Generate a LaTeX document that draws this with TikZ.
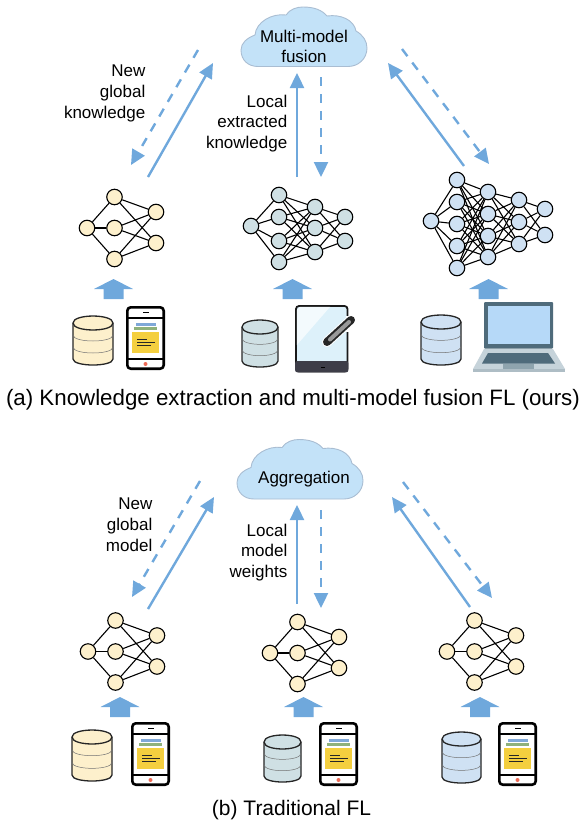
\documentclass[tikz,border=0pt]{standalone}
\usepackage{fontspec}
\setmainfont{Liberation Sans}
\usetikzlibrary{arrows.meta}
\definecolor{flow}{HTML}{6FA8DC}
\definecolor{nyel}{HTML}{FDF0CC}
\definecolor{ngre}{HTML}{CFE0E4}
\definecolor{nblu}{HTML}{CFE1F3}
\definecolor{cloudc}{HTML}{C3E2F8}
\definecolor{cloude}{HTML}{A9BDD2}
\definecolor{lapd}{HTML}{4F6B7B}
\definecolor{lapl}{HTML}{C6D3DA}
\definecolor{laps}{HTML}{B6D9F8}
\definecolor{lapm}{HTML}{8FA4AE}
\definecolor{lapb}{HTML}{AEBDC5}
\definecolor{phblue}{HTML}{7FA8D8}
\definecolor{phgreen}{HTML}{8FB17C}
\definecolor{phyel}{HTML}{F4CF3F}
\definecolor{phred}{HTML}{EE6A55}
\definecolor{tabl}{HTML}{DDF1FA}
\definecolor{tabd}{HTML}{3D3D48}
\tikzset{
 x=1pt,y=-1pt,
 neuron/.style={circle,draw=black,line width=1.1pt,minimum size=15.5pt,inner sep=0pt,fill=#1},
 syn/.style={line width=1.1pt,draw=black},
 solidflow/.style={draw=flow,line width=2.4pt,-{Triangle[length=15pt,width=14pt]}},
 dashflow/.style={draw=flow,line width=2.4pt,dash pattern=on 9pt off 8pt,-{Triangle[length=15pt,width=14pt]}},
 lbl/.style={font=\fontsize{17}{20.8}\selectfont,align=right,anchor=east,inner sep=0pt},
 cloudtxt/.style={font=\fontsize{17}{20.8}\selectfont,align=center,inner sep=0pt},
 captxt/.style={font=\fontsize{22.3}{24}\selectfont,inner sep=0pt},
 captxtb/.style={font=\fontsize{21}{24}\selectfont,inner sep=0pt},
}
% small network: prefix, x of input, y of centre, colour
\newcommand\smallnet[4]{%
 \begin{scope}[shift={(#2,#3)}]
 \node[neuron=#4] (#1i) at (0,0) {};
 \foreach \k/\yy in {1/-31,2/0,3/31} \node[neuron=#4] (#1m\k) at (27.5,\yy) {};
 \foreach \k/\yy in {1/-16,2/15} \node[neuron=#4] (#1o\k) at (69,\yy) {};
 \foreach \k in {1,2,3} {\draw[syn] (#1i) -- (#1m\k); \foreach \j in {1,2} \draw[syn] (#1m\k) -- (#1o\j);}
 \end{scope}}
% cylinder: centre x, top y, half width, bottom y, colour
\newcommand\dbase[5]{%
 \pgfmathsetmacro\ya{#2+7}\pgfmathsetmacro\yb{#4-6}%
 \pgfmathsetmacro\xl{#1-#3}\pgfmathsetmacro\xr{#1+#3}%
 \pgfmathsetmacro\yc{\ya+(\yb-\ya)/3}\pgfmathsetmacro\yd{\ya+2*(\yb-\ya)/3}%
 \draw[line width=1.3pt,draw=black!85,fill=#5] (\xl,\ya) -- (\xl,\yb)
   .. controls (\xl,#4+2) and (\xr,#4+2) .. (\xr,\yb) -- (\xr,\ya)
   .. controls (\xr,#2-2.3) and (\xl,#2-2.3) .. (\xl,\ya) -- cycle;
 \draw[line width=1.3pt,draw=black!85] (\xl,\ya) .. controls (\xl,\ya+9.3) and (\xr,\ya+9.3) .. (\xr,\ya);
 \draw[line width=0.5pt,draw=black!55] (\xl,\yc) .. controls (\xl,\yc+8) and (\xr,\yc+8) .. (\xr,\yc);
 \draw[line width=0.5pt,draw=black!55] (\xl,\yd) .. controls (\xl,\yd+8) and (\xr,\yd+8) .. (\xr,\yd);}
% phone at top-left x,y
\newcommand\phone[2]{%
 \begin{scope}[shift={(#1,#2)}]
 \draw[line width=2.6pt,rounded corners=3.5pt,fill=white] (1.3,1.3) rectangle (37.7,62.7);
 \draw[line width=2pt] (1,12) -- (38,12) (1,53) -- (38,53);
 \draw[line width=1pt] (17,6.5) -- (22.5,6.5);
 \fill[phblue] (10,17) rectangle (30,20);
 \fill[phgreen] (8,21) rectangle (31,24);
 \fill[phyel] (6,26) rectangle (33,47);
 \draw[line width=0.8pt,black!85] (11,33.5) -- (21,33.5) (11,36.5) -- (29,36.5) (11,39.5) -- (25,39.5);
 \fill[phred] (19.5,58) circle (2pt);
 \end{scope}}
% upward block arrow: centre x, tip y
\newcommand\bigarrow[2]{%
 \fill[flow] (#1,#2) -- ++(19.5,10) -- ++(-9.5,0) -- ++(0,10) -- ++(-20,0) -- ++(0,-10) -- ++(-9.5,0) -- cycle;}
% cloud outline
\newcommand\cloudshape[2]{%
 \draw[line width=0.9pt,draw=cloude,fill=cloudc,shift={(#1,#2)}]
 (258,66.5) .. controls (248,66.5) and (241,60) .. (241,50)
 .. controls (241,43) and (247,38) .. (255,35)
 .. controls (256,22) and (272,13) .. (286,15)
 .. controls (290,9) and (297,7) .. (303,7)
 .. controls (314,7) and (322,10) .. (327,16)
 .. controls (341,14) and (354,20) .. (356,31)
 .. controls (363,35) and (367,41) .. (367,48)
 .. controls (367,59) and (358,66.5) .. (348,66.5) -- cycle;}
\begin{document}
\begin{tikzpicture}
\useasboundingbox (0,0) rectangle (581,825);

%%% ---------- part (a) ----------
\cloudshape{0}{0}
\node[cloudtxt] (fusion) at (304,46.5) {Multi-model\\fusion};

% flow arrow ends
\coordinate (a1s) at (148,177); \coordinate (a1e) at (213,63);
\coordinate (a2s) at (198,50);  \coordinate (a2e) at (131,165);
\coordinate (a3s) at (297,177); \coordinate (a3e) at (297,73);
\coordinate (a4s) at (321,77);  \coordinate (a4e) at (321,177);
\coordinate (a5s) at (464,166); \coordinate (a5e) at (388,63);
\coordinate (a6s) at (402,49);  \coordinate (a6e) at (489,164);
\draw[solidflow] (a1s) -- (a1e);
\draw[dashflow]  (a2s) -- (a2e);
\draw[solidflow] (a3s) -- (a3e);
\draw[dashflow]  (a4s) -- (a4e);
\draw[solidflow] (a5s) -- (a5e);
\draw[dashflow]  (a6s) -- (a6e);

\node[lbl] (lA1) at (145.5,93.5) {New\\global\\knowledge};
\node[lbl] (lA2) at (287.5,123.5) {Local\\extracted\\knowledge};

% left network
\smallnet{A}{87}{228}{nyel}

% middle network
\node[neuron=ngre] (Bi) at (251,226) {};
\foreach \k/\yy in {1/195,2/217,3/241,4/262} \node[neuron=ngre] (Bm\k) at (279,\yy) {};
\foreach \k/\yy in {1/207,2/228,3/252} \node[neuron=ngre] (Bn\k) at (315,\yy) {};
\foreach \k/\yy in {1/217,2/241} \node[neuron=ngre] (Bo\k) at (345,\yy) {};
\foreach \k in {1,2,3,4} {\draw[syn] (Bi) -- (Bm\k); \foreach \j in {1,2,3} \draw[syn] (Bm\k) -- (Bn\j);}
\foreach \k in {1,2,3} \foreach \j in {1,2} \draw[syn] (Bn\k) -- (Bo\j);

% right network
\node[neuron=nblu] (Ci) at (431,221) {};
\foreach \k/\yy in {1/180,2/202,3/224,4/246,5/268} \node[neuron=nblu] (Ca\k) at (457,\yy) {};
\foreach \k/\yy in {1/192,2/214,3/236,4/257} \node[neuron=nblu] (Cb\k) at (488,\yy) {};
\foreach \k/\yy in {1/200,2/222,3/244} \node[neuron=nblu] (Cc\k) at (519,\yy) {};
\foreach \k/\yy in {1/209,2/235} \node[neuron=nblu] (Cd\k) at (545,\yy) {};
\foreach \k in {1,...,5} {\draw[syn] (Ci) -- (Ca\k); \foreach \j in {1,...,4} \draw[syn] (Ca\k) -- (Cb\j);}
\foreach \k in {1,...,4} \foreach \j in {1,2,3} \draw[syn] (Cb\k) -- (Cc\j);
\foreach \k in {1,2,3} \foreach \j in {1,2} \draw[syn] (Cc\k) -- (Cd\j);

% block arrows
\bigarrow{113.5}{279}
\bigarrow{292.5}{279}
\bigarrow{488.5}{279}

% data and devices
\dbase{93}{316}{20}{365}{nyel}
\phone{126}{306}
\dbase{260}{320}{18}{367}{ngre}
\dbase{441}{315}{20}{365}{nblu}

% tablet
\draw[line width=1.8pt,draw=black!90,fill=tabl,rounded corners=3pt] (296,306) rectangle (347.5,371.5);
\fill[white!65!tabl] (296.9,345) -- (330,306.9) -- (300,306.9) -- (296.9,310) -- cycle;
\fill[tabd,rounded corners=2pt] (295.2,361) rectangle (348.3,372.3);
\draw[line width=1pt,black] (321,367) -- (325,367);
\draw[line width=3pt,white] (347.5,316) -- (347.5,332);
\draw[line width=10pt,white,line cap=round] (351,320) -- (327,342);
\draw[line width=8pt,black!85,line cap=round] (351,320) -- (327,342);
\draw[line width=4pt,gray!80!white,line cap=round] (349,322) -- (330,339.5);

% laptop
\fill[lapl] (484,349) -- (553,349) -- (565,369) -- (473,369) -- cycle;
\fill[lapb] (473,369) rectangle (565,372);
\fill[lapd,rounded corners=1pt] (484,302) rectangle (553,348.5);
\fill[laps] (487.5,305.5) rectangle (550,344);
\fill[lapd] (488,353) -- (548,353) -- (555,363.5) -- (482,363.5) -- cycle;
\fill[lapm] (503,364) rectangle (534,368.5);

\node[captxt] (capA) at (293,399.5) {(a) Knowledge extraction and multi-model fusion FL (ours)};

%%% ---------- part (b) ----------
\cloudshape{-4}{432.5}
\node[cloudtxt] (aggr) at (304,479) {Aggregation};

\coordinate (b1s) at (148,609); \coordinate (b1e) at (214,497);
\coordinate (b2s) at (200,481); \coordinate (b2e) at (132,597);
\coordinate (b3s) at (297,604); \coordinate (b3e) at (297,505);
\coordinate (b4s) at (321,510); \coordinate (b4e) at (321,608);
\coordinate (b5s) at (470,607); \coordinate (b5e) at (392,497);
\coordinate (b6s) at (403,482); \coordinate (b6e) at (492,598);
\draw[solidflow] (b1s) -- (b1e);
\draw[dashflow]  (b2s) -- (b2e);
\draw[solidflow] (b3s) -- (b3e);
\draw[dashflow]  (b4s) -- (b4e);
\draw[solidflow] (b5s) -- (b5e);
\draw[dashflow]  (b6s) -- (b6e);

\node[lbl] (lB1) at (152.5,524.5) {New\\global\\model};
\node[lbl] (lB2) at (287.5,552.5) {Local\\model\\weights};

\smallnet{D}{88}{651.5}{nyel}
\smallnet{E}{270}{653}{nyel}
\smallnet{F}{447}{651.5}{nyel}

\bigarrow{120}{697}
\bigarrow{303.5}{697}
\bigarrow{480}{697}

\dbase{92}{730}{20}{781}{nyel}
\phone{131}{722}
\dbase{282.5}{735}{18.5}{782}{ngre}
\phone{319}{722}
\dbase{461.5}{732}{19.5}{783}{nblu}
\phone{498}{722}

\node[captxtb] (capB) at (291.5,810) {(b) Traditional FL};
\end{tikzpicture}
\end{document}
